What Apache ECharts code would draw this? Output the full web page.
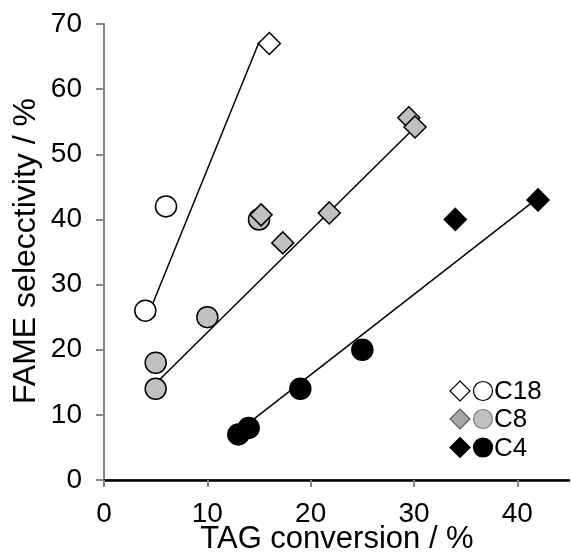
<!DOCTYPE html>
<html>
<head>
<meta charset="utf-8">
<script src="https://cdn.jsdelivr.net/npm/echarts@6/dist/echarts.min.js"></script>
<style>
  html, body { margin: 0; padding: 0; background: #fff; }
  #chart { width: 571px; height: 553px; }
</style>
</head>
<body>
<div id="chart"></div>
<script>
// FAME selectivity vs TAG conversion for three catalysts (C18, C8, C4)
var xTicks = [0, 10, 20, 30, 40];
var yTicks = [0, 10, 20, 30, 40, 50, 60, 70];

// [TAG conversion %, FAME selectivity %]
var c18Diamond = [[16, 67]];
var c18Circle = [[6, 42], [4, 26]];
var c8Circle = [[15, 40], [10, 25], [5, 18], [5, 14]];
var c8Diamond = [[15.2, 40.7], [17.3, 36.4], [21.8, 41], [29.5, 55.6], [30.1, 54.2]];
var c4Diamond = [[34, 40], [42, 43]];
var c4Circle = [[13, 7], [14, 8], [19, 14], [25, 20]];

// linear trend lines (start, end)
var c18Fit = [[4, 24.3], [15, 67.2]];
var c8Fit = [[5, 14.8], [30, 54]];
var c4Fit = [[13, 7.5], [42, 43.3]];

var legendNames = ['C18', 'C8', 'C4'];

var FONT = '"Liberation Sans", Arial, sans-serif';
var AXIS_GRAY = '#868686';

function fitLine(data) {
  return {
    type: 'line', data: data, symbol: 'none', silent: true, z: 1,
    lineStyle: { color: '#000', width: 1.5 }
  };
}
function marks(data, symbol, size, fill) {
  return {
    type: 'scatter', data: data, symbol: symbol, symbolSize: size, z: 3,
    itemStyle: { color: fill, borderColor: '#000', borderWidth: 1.5, opacity: 1 }
  };
}

var legendStyles = [
  { d: { fill: '#fff', stroke: '#000' }, c: { fill: '#fff', stroke: '#000' } },
  { d: { fill: '#a6a6a6', stroke: '#595959' }, c: { fill: '#c0c0c0', stroke: '#7f7f7f' } },
  { d: { fill: '#000', stroke: '#000' }, c: { fill: '#000', stroke: '#000' } }
];
var legendRowsY = [391, 419, 447.5];
var legendGraphics = [];
legendNames.forEach(function (name, i) {
  var y = legendRowsY[i], s = legendStyles[i];
  legendGraphics.push({
    type: 'polygon', x: 460, y: y,
    shape: { points: [[0, -10], [10, 0], [0, 10], [-10, 0]] },
    style: { fill: s.d.fill, stroke: s.d.stroke, lineWidth: 1.2 }
  });
  legendGraphics.push({
    type: 'circle', shape: { cx: 483, cy: y, r: 9.5 },
    style: { fill: s.c.fill, stroke: s.c.stroke, lineWidth: 1.2 }
  });
  legendGraphics.push({
    type: 'text', x: 494, y: y + 1,
    style: { text: name, fill: '#000', font: '26px ' + FONT, textAlign: 'left', textVerticalAlign: 'middle' }
  });
});

var chart = echarts.init(document.getElementById('chart'), null, { renderer: 'canvas' });
chart.setOption({
  animation: false,
  backgroundColor: '#fff',
  grid: { left: 104, right: 2, top: 24, bottom: 73, containLabel: false },
  xAxis: [{
    type: 'value', min: 0, max: 45, position: 'bottom',
    axisLine: { show: true, onZero: false, lineStyle: { color: AXIS_GRAY, width: 2 } },
    axisTick: { show: true, length: 7, customValues: xTicks, lineStyle: { color: AXIS_GRAY, width: 2 } },
    axisLabel: { customValues: xTicks, fontSize: 28, fontFamily: FONT, color: '#000', margin: 20 },
    splitLine: { show: false }
  }, {
    type: 'value', min: 0, max: 45, position: 'top',
    axisLine: { show: true, lineStyle: { color: '#000', width: 2.5 } },
    axisTick: { show: false }, axisLabel: { show: false }, splitLine: { show: false }
  }],
  yAxis: [{
    type: 'value', min: 0, max: 70, interval: 10, position: 'left',
    axisLine: { show: true, onZero: false, lineStyle: { color: AXIS_GRAY, width: 2 } },
    axisTick: { show: true, length: 8, lineStyle: { color: AXIS_GRAY, width: 2 } },
    axisLabel: { fontSize: 28, fontFamily: FONT, color: '#000', margin: 22,
      formatter: function (v) { return yTicks.indexOf(v) >= 0 ? String(v) : ''; } },
    splitLine: { show: false }
  }, {
    type: 'value', min: 0, max: 70, position: 'right',
    axisLine: { show: true, lineStyle: { color: AXIS_GRAY, width: 1.5 } },
    axisTick: { show: false }, axisLabel: { show: false }, splitLine: { show: false }
  }],
  series: [
    fitLine(c18Fit), fitLine(c8Fit), fitLine(c4Fit),
    marks(c18Circle, 'circle', 21, '#fff'),
    marks(c18Diamond, 'diamond', 22, '#fff'),
    marks(c8Circle, 'circle', 21, '#c0c0c0'),
    marks(c8Diamond, 'diamond', 22, '#c0c0c0'),
    marks(c4Circle, 'circle', 21, '#000'),
    marks(c4Diamond, 'diamond', 22, '#000')
  ],
  graphic: [{
    type: 'text', x: 337, y: 539,
    style: { text: 'TAG conversion / %', fill: '#000', font: '31px ' + FONT, textAlign: 'center', textVerticalAlign: 'middle' }
  }, {
    type: 'text', x: 26, y: 251, rotation: Math.PI / 2,
    style: { text: 'FAME selecctivity / %', fill: '#000', font: '32px ' + FONT, textAlign: 'center', textVerticalAlign: 'middle' }
  }].concat(legendGraphics)
});
</script>
</body>
</html>
